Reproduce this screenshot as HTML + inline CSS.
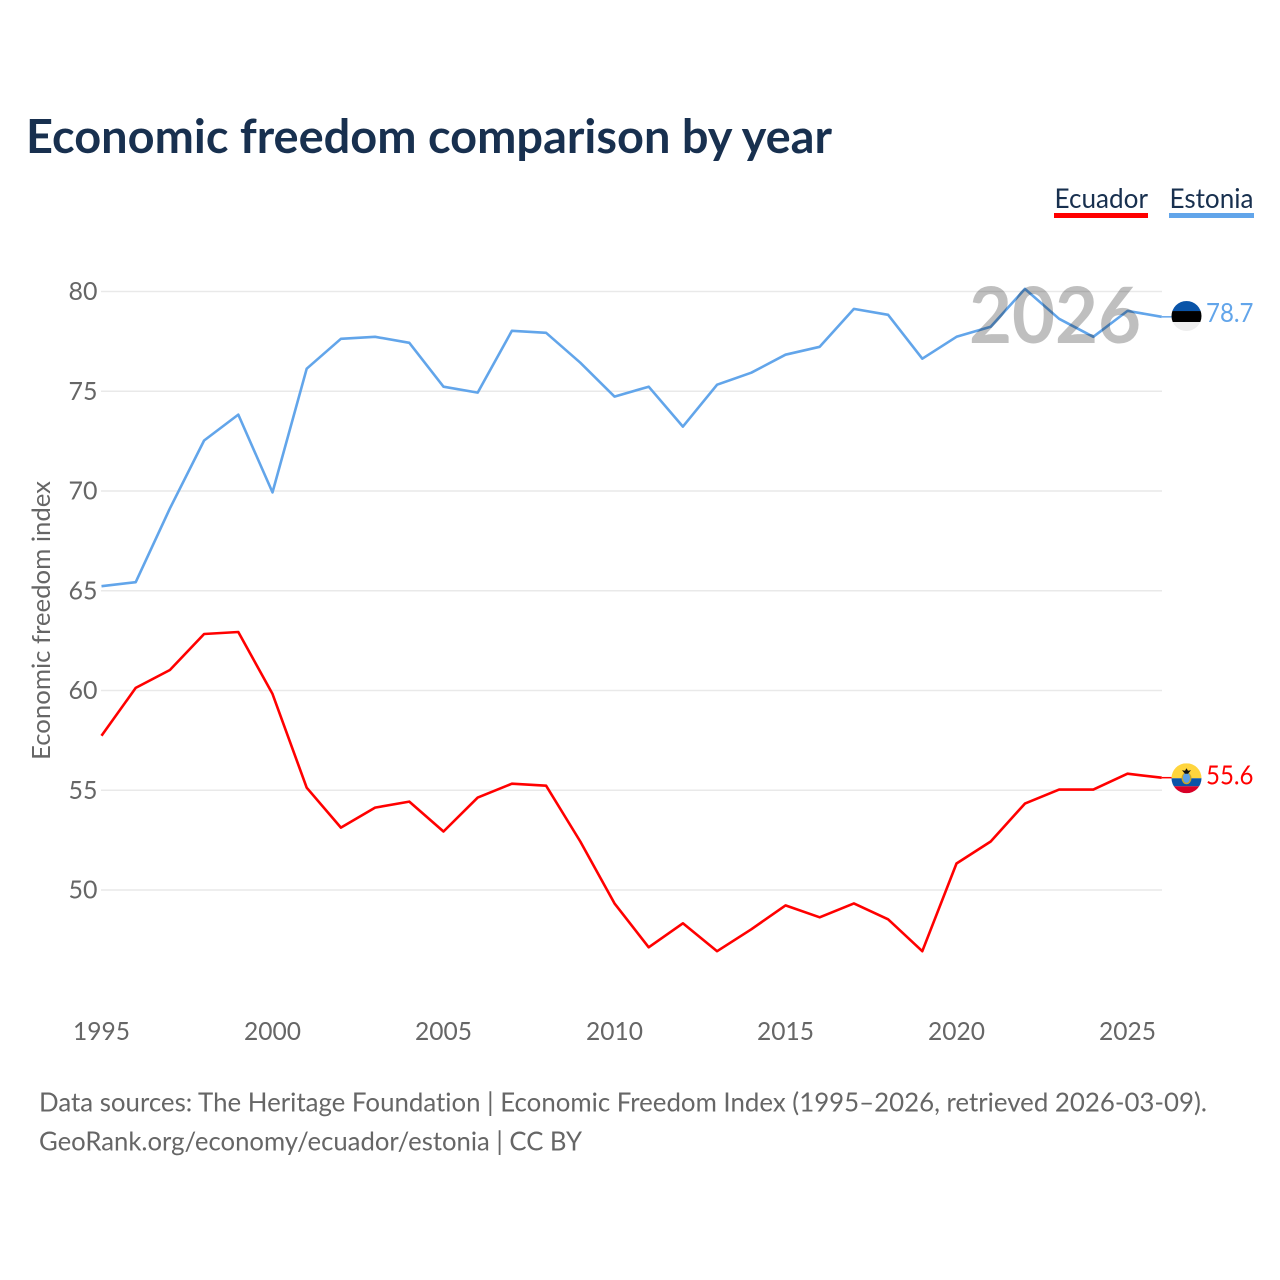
<!DOCTYPE html>
<html lang="en">
<head>
<meta charset="utf-8">
<title>Economic freedom comparison by year</title>
<style>
html,body{margin:0;padding:0;background:#fff;}
svg{display:block;}
text{font-family:Lato,Carlito,"Liberation Sans",sans-serif;font-variant-ligatures:none;}
</style>
</head>
<body>
<svg id="chart" xmlns="http://www.w3.org/2000/svg" width="1280" height="1280" viewBox="0 0 1280 1280">
  <rect width="1280" height="1280" fill="#fff"/>
  <text x="26" y="153" font-size="47" font-weight="700" fill="#18304f" textLength="806" lengthAdjust="spacingAndGlyphs">Economic freedom comparison by year</text>
  <g>
    <g>
      <text x="1054.5" y="208" font-size="27" fill="#18304f" textLength="93.5" lengthAdjust="spacingAndGlyphs">Ecuador</text>
      <rect x="1054" y="213" width="94" height="5" fill="#ff0000"/>
    </g>
    <g>
      <text x="1169.5" y="208" font-size="27" fill="#18304f" textLength="84" lengthAdjust="spacingAndGlyphs">Estonia</text>
      <rect x="1169" y="213" width="85" height="5" fill="#62a5ea"/>
    </g>
  </g>
  <text transform="translate(50,620.5) rotate(-90)" text-anchor="middle" font-size="25.5" fill="#666" textLength="279" lengthAdjust="spacingAndGlyphs">Economic freedom index</text>
  <g id="grid"></g>
  <g id="yticks"></g>
  <g id="xticks"></g>
  <g id="series"></g>
  <text x="1141" y="343" text-anchor="end" font-size="78" font-weight="700" fill="#000" fill-opacity="0.25" textLength="172" lengthAdjust="spacingAndGlyphs">2026</text>
  <g id="flags"></g>
  <text x="39" y="1111.5" font-size="26" fill="#666" textLength="1168" lengthAdjust="spacingAndGlyphs">Data sources: The Heritage Foundation | Economic Freedom Index (1995–2026, retrieved 2026-03-09).</text>
  <text x="39" y="1150.5" font-size="26" fill="#666" textLength="543" lengthAdjust="spacingAndGlyphs">GeoRank.org/economy/ecuador/estonia | CC BY</text>
</svg>
<script>
const years = [1995,1996,1997,1998,1999,2000,2001,2002,2003,2004,2005,2006,2007,2008,2009,2010,2011,2012,2013,2014,2015,2016,2017,2018,2019,2020,2021,2022,2023,2024,2025,2026];
const ecuadorValues = [57.7,60.1,61.0,62.8,62.9,59.8,55.1,53.1,54.1,54.4,52.9,54.6,55.3,55.2,52.4,49.3,47.1,48.3,46.9,48.0,49.2,48.6,49.3,48.5,46.9,51.3,52.4,54.3,55.0,55.0,55.8,55.6];
const estoniaValues = [65.2,65.4,69.1,72.5,73.8,69.9,76.1,77.6,77.7,77.4,75.2,74.9,78.0,77.9,76.4,74.7,75.2,73.2,75.3,75.9,76.8,77.2,79.1,78.8,76.6,77.7,78.2,80.1,78.6,77.7,79.0,78.7];
const yTickLabels = [50,55,60,65,70,75,80];
const xTickLabels = [1995,2000,2005,2010,2015,2020,2025];

const NS = 'http://www.w3.org/2000/svg';
function xScale(year){ return 101.5 + (year - 1995) * 34.2; }
function yScale(value){ return 889.4 - (value - 50) * 19.95; }
function make(tag, attrs, parent){
  const el = document.createElementNS(NS, tag);
  for (const k in attrs) el.setAttribute(k, attrs[k]);
  parent.appendChild(el);
  return el;
}

const grid = document.getElementById('grid');
const yticks = document.getElementById('yticks');
yTickLabels.forEach(function(v){
  const gy = yScale(v) + 0.6;
  const line = make('line', {x1:101, x2:1162, y1:gy, y2:gy, stroke:'#e9e9e9', 'stroke-width':1.5}, grid);
  
  
  const t = make('text', {x:97.5, y:gy+8.5, 'text-anchor':'end', 'font-size':25.5, fill:'#666', textLength:29, lengthAdjust:'spacingAndGlyphs'}, yticks);
  
  
  t.textContent = v;
});

const xticks = document.getElementById('xticks');
xTickLabels.forEach(function(y){
  const t = make('text', {x:xScale(y), y:1040, 'text-anchor':'middle', 'font-size':25.5, fill:'#666', textLength:57, lengthAdjust:'spacingAndGlyphs'}, xticks);
  
  
  t.textContent = y;
});

const series = document.getElementById('series');
function drawLine(values, color, name){
  const pts = values.map(function(v, i){ return xScale(years[i]).toFixed(1) + ',' + yScale(v).toFixed(1); });
  const p = make('polyline', {points:pts.join(' '), fill:'none', stroke:color, 'stroke-width':2.6, 'stroke-linejoin':'round'}, series);
  
  
  const last = values[values.length - 1];
  const yEnd = yScale(last);
  const xEnd = xScale(years[years.length - 1]);
  const c = make('line', {x1:xEnd, x2:xEnd + 10, y1:yEnd, y2:yEnd, stroke:color, 'stroke-width':1.5}, series);
  
  
}
drawLine(ecuadorValues, '#ff0000', 'ecuador-line');
drawLine(estoniaValues, '#62a5ea', 'estonia-line');

const flags = document.getElementById('flags');
const defs = make('defs', {}, flags);
function drawFlag(id, cy, stripes){
  const cx = 1186.5, r = 15;
  const clip = make('clipPath', {id:id}, defs);
  make('circle', {cx:cx, cy:cy, r:r}, clip);
  const g = make('g', {'clip-path':'url(#' + id + ')'}, flags);
  
  
  stripes.forEach(function(s){
    make('rect', {x:cx - r, y:cy - r + s[0], width:2 * r, height:s[1], fill:s[2]}, g);
  });
  return g;
}
function drawValue(value, color, baseline, name){
  const t = make('text', {x:1206, y:baseline, 'font-size':26, fill:color, textLength:47.5, lengthAdjust:'spacingAndGlyphs'}, flags);
  
  
  t.textContent = value.toFixed(1);
}

const estY = yScale(estoniaValues[estoniaValues.length - 1]) - 0.8;
drawFlag('estonia', estY, [[0,10,'#0a54a8'],[10,11,'#000000'],[21,9,'#eeeeee']]);
drawValue(estoniaValues[estoniaValues.length - 1], '#62a5ea', estY + 6, 'estonia-value-label');

const ecuY = yScale(ecuadorValues[ecuadorValues.length - 1]) + 0.6;
const ecuFlag = drawFlag('ecuador', ecuY, [[0,15,'#ffd53d'],[15,8,'#0a54a8'],[23,7,'#d80027']]);
const shield = make('ellipse', {cx:1186.5, cy:ecuY, rx:5, ry:6, fill:'#c8a52a'}, ecuFlag);


const shieldIn = make('ellipse', {cx:1186.5, cy:ecuY - 0.5, rx:3.5, ry:5, fill:'#5aa0e6'}, ecuFlag);


const condor = make('path', {d:'M1182 ' + (ecuY - 8) + 'l3 .5l1.5 -2.5l1.5 2.5l3 -.5l-3 3.5h-3z', fill:'#111'}, ecuFlag);


drawValue(ecuadorValues[ecuadorValues.length - 1], '#ff0000', ecuY + 6, 'ecuador-value-label');
</script>
</body>
</html>
